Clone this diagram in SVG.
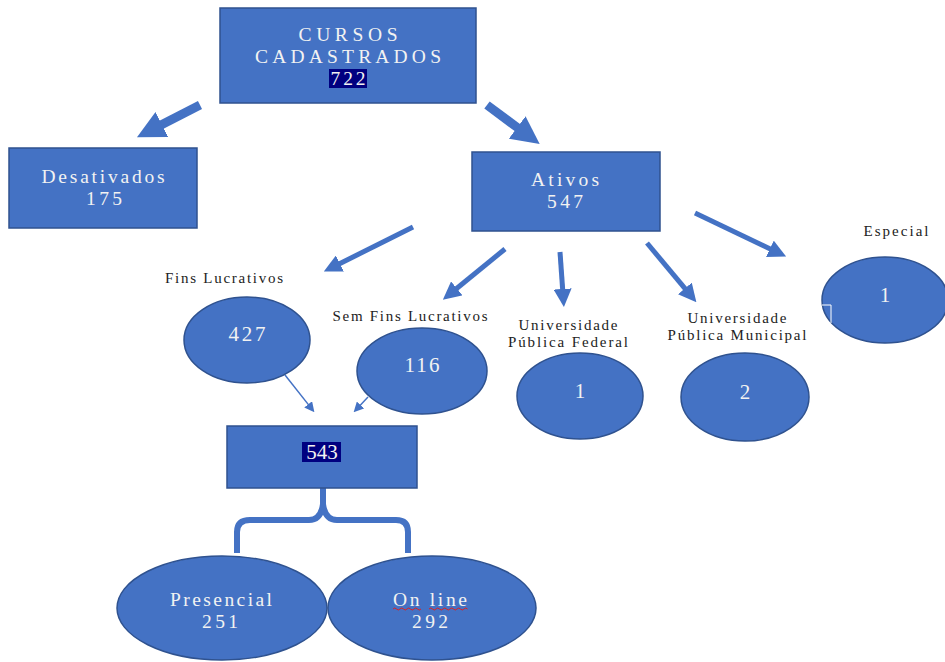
<svg xmlns="http://www.w3.org/2000/svg" width="945" height="662" viewBox="0 0 945 662">
<style>
.shape{fill:#4472C4;stroke:#2F528F;stroke-width:1.5}
.nt{font-family:"Liberation Serif","Times New Roman",serif;fill:#F2F2F2;text-anchor:middle}
.lbl{font-family:"Liberation Serif","Times New Roman",serif;fill:#222;font-size:15px;text-anchor:middle}
.hl{fill:#000080}
.big{stroke:#4472C4;stroke-width:9;fill:none}
.med{stroke:#4472C4;stroke-width:5;fill:none}
.sml{stroke:#4472C4;stroke-width:1.5;fill:none}
</style>
<defs>
<marker id="hBig" markerUnits="userSpaceOnUse" viewBox="0 0 28 28" refX="1" refY="14" markerWidth="28" markerHeight="28" orient="auto"><path d="M0,0 L28,14 L0,28 z" fill="#4472C4"/></marker>
<marker id="hMed" markerUnits="userSpaceOnUse" viewBox="0 0 18 18" refX="1" refY="9" markerWidth="18" markerHeight="18" orient="auto"><path d="M0,0 L18,9 L0,18 z" fill="#4472C4"/></marker>
<marker id="hSml" markerUnits="userSpaceOnUse" viewBox="0 0 10 10" refX="1" refY="5" markerWidth="10" markerHeight="10" orient="auto"><path d="M0,0 L10,5 L0,10 z" fill="#4472C4"/></marker>
</defs>
<rect width="945" height="662" fill="#fff"/>

<g id="connectors">
<line class="big" x1="200" y1="105" x2="161" y2="125" marker-end="url(#hBig)"/>
<line class="big" x1="487" y1="105" x2="518" y2="128" marker-end="url(#hBig)"/>
<line class="med" x1="413" y1="227" x2="339" y2="264" marker-end="url(#hMed)"/>
<line class="med" x1="505" y1="249" x2="456" y2="289" marker-end="url(#hMed)"/>
<line class="med" x1="560" y1="252" x2="562.7" y2="290" marker-end="url(#hMed)"/>
<line class="med" x1="647" y1="243" x2="685.5" y2="289.2" marker-end="url(#hMed)"/>
<line class="med" x1="695" y1="213" x2="770.8" y2="249.2" marker-end="url(#hMed)"/>
<line class="sml" x1="285" y1="375" x2="308.8" y2="405.1" marker-end="url(#hSml)"/>
<line class="sml" x1="368" y1="397" x2="359.8" y2="405.7" marker-end="url(#hSml)"/>
<path d="M237,553 V532 Q237,520 250,520 H309 Q321,520 323,504 V488 M323,504 Q325,520 337,520 H396 Q408,520 408,532 V553" fill="none" stroke="#4472C4" stroke-width="6"/>
</g>

<g id="cursos">
<rect class="shape" x="220" y="8" width="256" height="95"/>
<rect class="hl" x="329" y="69" width="38" height="19"/>
<text class="nt" font-size="19.5"><tspan x="348" y="41" textLength="99" lengthAdjust="spacing">CURSOS</tspan><tspan x="348" y="63" textLength="186" lengthAdjust="spacing">CADASTRADOS</tspan><tspan x="348" y="85" textLength="35" lengthAdjust="spacing">722</tspan></text>
</g>

<g id="desativados">
<rect class="shape" x="9" y="148" width="188" height="80"/>
<text class="nt" font-size="19.5"><tspan x="103" y="183" textLength="123" lengthAdjust="spacing">Desativados</tspan><tspan x="104" y="205" textLength="36" lengthAdjust="spacing">175</tspan></text>
</g>

<g id="ativos">
<rect class="shape" x="472" y="152" width="188" height="79"/>
<text class="nt" font-size="19.5"><tspan x="565" y="186" textLength="68" lengthAdjust="spacing">Ativos</tspan><tspan x="565" y="208" textLength="36" lengthAdjust="spacing">547</tspan></text>
</g>

<g id="fins">
<text class="lbl" x="224" y="283" textLength="118" lengthAdjust="spacing">Fins Lucrativos</text>
<ellipse class="shape" cx="247" cy="340" rx="63" ry="43"/>
<text class="nt" x="247" y="341" font-size="21" textLength="37" lengthAdjust="spacing">427</text>
</g>

<g id="semfins">
<text class="lbl" x="410" y="321" textLength="155" lengthAdjust="spacing">Sem Fins Lucrativos</text>
<ellipse class="shape" cx="422" cy="371" rx="65" ry="43"/>
<text class="nt" x="422" y="372" font-size="21" textLength="35" lengthAdjust="spacing">116</text>
</g>

<g id="upf">
<text class="lbl"><tspan x="568" y="330" textLength="99" lengthAdjust="spacing">Universidade</tspan><tspan x="568" y="347" textLength="120" lengthAdjust="spacing">Pública Federal</tspan></text>
<ellipse class="shape" cx="580" cy="396" rx="63" ry="43"/>
<text class="nt" x="580" y="398" font-size="21">1</text>
</g>

<g id="upm">
<text class="lbl"><tspan x="737" y="323" textLength="99" lengthAdjust="spacing">Universidade</tspan><tspan x="737" y="340" textLength="139" lengthAdjust="spacing">Pública Municipal</tspan></text>
<ellipse class="shape" cx="745" cy="397" rx="64" ry="44"/>
<text class="nt" x="745" y="399" font-size="21">2</text>
</g>

<g id="especial">
<text class="lbl" x="896" y="236" textLength="65" lengthAdjust="spacing">Especial</text>
<ellipse class="shape" cx="885" cy="300" rx="63" ry="43"/>
<text class="nt" x="885" y="302" font-size="21">1</text>
<polyline points="822,305 831,305 831,323" fill="none" stroke="#fff" stroke-width="1"/>
</g>

<g id="total543">
<rect class="shape" x="227" y="426" width="190" height="62"/>
<rect class="hl" x="302" y="442" width="39" height="20"/>
<text class="nt" x="322" y="459" font-size="21">543</text>
</g>

<g id="presencial">
<ellipse class="shape" cx="222" cy="608" rx="105" ry="52"/>
<text class="nt" font-size="19.5"><tspan x="221" y="606" textLength="102" lengthAdjust="spacing">Presencial</tspan><tspan x="220" y="628" textLength="36" lengthAdjust="spacing">251</tspan></text>
</g>

<g id="online">
<ellipse class="shape" cx="432" cy="608" rx="104" ry="52"/>
<text class="nt" font-size="19.5"><tspan x="430" y="606" textLength="74" lengthAdjust="spacing">On line</tspan><tspan x="430" y="628" textLength="36" lengthAdjust="spacing">292</tspan></text>
<path d="M393,609 q1.75,-2 3.5,0 t3.5,0 t3.5,0 t3.5,0 t3.5,0 t3.5,0 t3.5,0 t3.5,0 M429,609 q1.75,-2 3.5,0 t3.5,0 t3.5,0 t3.5,0 t3.5,0 t3.5,0 t3.5,0 t3.5,0 t3.5,0 t3.5,0 t3.5,0" fill="none" stroke="#E02020" stroke-width="1"/>
</g>
</svg>
